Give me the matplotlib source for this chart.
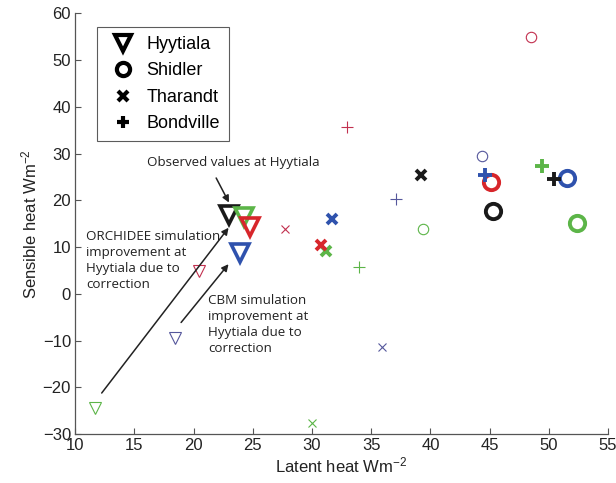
import matplotlib
matplotlib.use('Agg')
import matplotlib.pyplot as plt
from matplotlib.lines import Line2D

plt.rcParams['font.family'] = ['Liberation Sans', 'DejaVu Sans']
plt.rcParams['mathtext.default'] = 'regular'

# model keys for each point: obs = observed, orc = ORCHIDEE, cbm = CBM, m3 = third model
# suffix _c = corrected (big marker), _u = uncorrected (small marker)
hyy_model = ['orc_u', 'cbm_u', 'm3_u', 'obs', 'orc_c', 'm3_c', 'cbm_c']
hyy_latent = [11.7, 18.4, 20.5, 23.0, 24.3, 24.8, 23.9]
hyy_sensible = [-24.4, -9.4, 4.8, 16.8, 16.4, 14.3, 8.8]

shi_model = ['m3_u', 'cbm_u', 'orc_u', 'obs', 'orc_c', 'cbm_c', 'm3_c']
shi_latent = [48.5, 44.4, 39.4, 45.3, 52.4, 51.5, 45.1]
shi_sensible = [54.9, 29.4, 13.8, 17.7, 15.2, 24.7, 23.9]

tha_model = ['m3_u', 'cbm_u', 'orc_u', 'obs', 'cbm_c', 'orc_c', 'm3_c']
tha_latent = [27.7, 35.9, 30.0, 39.2, 31.7, 31.2, 30.8]
tha_sensible = [13.9, -11.4, -27.7, 25.4, 16.0, 9.1, 10.4]

bon_model = ['m3_u', 'cbm_u', 'orc_u', 'cbm_c', 'orc_c', 'obs']
bon_latent = [33.0, 37.1, 34.0, 44.6, 49.4, 50.4]
bon_sensible = [35.7, 20.3, 5.7, 25.4, 27.3, 24.5]

sites = ['Hyytiala', 'Shidler', 'Tharandt', 'Bondville']

colors = {'obs': '#1a1a1a', 'orc': '#5cb548', 'cbm': '#2f52ad', 'm3': '#d7262b'}
small_colors = {'orc': '#5cb548', 'cbm': '#55579c', 'm3': '#c2304f'}

site_style = {
    'Hyytiala': dict(marker='v', big=12.5, small=9, bw=2.6, sw=0.8),
    'Shidler': dict(marker='o', big=11, small=7.5, bw=2.8, sw=0.8),
    'Tharandt': dict(marker='x', big=7, small=6, bw=2.8, sw=0.8),
    'Bondville': dict(marker='+', big=10, small=8, bw=2.8, sw=0.8),
}

fig = plt.figure(figsize=(6.16, 4.83), dpi=100)
ax = fig.add_axes([0.122, 0.1014, 0.865, 0.871])

data = {
    'Hyytiala': (hyy_model, hyy_latent, hyy_sensible),
    'Shidler': (shi_model, shi_latent, shi_sensible),
    'Tharandt': (tha_model, tha_latent, tha_sensible),
    'Bondville': (bon_model, bon_latent, bon_sensible),
}

for site in sites:
    st = site_style[site]
    models, xs, ys = data[site]
    for m, x, y in zip(models, xs, ys):
        key = m.split('_')[0]
        if m == 'obs' or m.endswith('_c'):
            c = colors[key]
            ms, mew = st['big'], st['bw']
        else:
            c = small_colors[key]
            ms, mew = st['small'], st['sw']
        ax.plot(x, y, linestyle='none', marker=st['marker'], ms=ms,
                mew=mew, mec=c, mfc='none', zorder=3)

ax.set_xlim(10, 55)
ax.set_ylim(-30, 60)
ax.set_xticks(range(10, 56, 5))
ax.set_yticks(range(-30, 61, 10))
for s in ['top', 'right']:
    ax.spines[s].set_visible(False)
for s in ['left', 'bottom']:
    ax.spines[s].set_color('#555555')
    ax.spines[s].set_linewidth(0.9)
ax.tick_params(direction='in', length=4, width=0.8, color='#555555',
               labelsize=12, labelcolor='#222222', pad=3)
ax.set_xlabel(r'Latent heat Wm$^{-2}$', fontsize=12, color='#222222', labelpad=2)
ax.set_ylabel(r'Sensible heat Wm$^{-2}$', fontsize=12, color='#222222', labelpad=2)

legend_ms = {'Hyytiala': 11.5, 'Shidler': 9.5, 'Tharandt': 6.5, 'Bondville': 9}
handles = [Line2D([], [], linestyle='none', marker=site_style[s]['marker'],
                  ms=legend_ms[s], mew=3, mec='black', mfc='none') for s in sites]
leg = ax.legend(handles, sites, loc='upper left', bbox_to_anchor=(0.157, 0.944),
                bbox_transform=fig.transFigure, borderaxespad=0, fontsize=13,
                frameon=True, fancybox=False, edgecolor='#333333', borderpad=0.5,
                labelspacing=0.52, handletextpad=0.35, handlelength=1.9)
leg.get_frame().set_linewidth(0.8)

afont = dict(family=['Open Sans', 'DejaVu Sans'], fontsize=9.6, color='#222222')
arrow = dict(arrowstyle='-|>', color='#222222', lw=1.1, mutation_scale=10)

ax.text(16.1, 28.0, 'Observed values at Hyytiala', va='center', ha='left', **afont)
ax.annotate('', xy=(23.1, 19.0), xytext=(21.8, 25.3), arrowprops=arrow)

ax.text(10.9, 13.6, 'ORCHIDEE simulation\nimprovement at\nHyytiala due to\ncorrection',
        va='top', ha='left', linespacing=1.3, **afont)
ax.annotate('', xy=(23.1, 14.6), xytext=(12.1, -21.7), arrowprops=arrow)

ax.text(21.2, -0.1, 'CBM simulation\nimprovement at\nHyytiala due to\ncorrection',
        va='top', ha='left', linespacing=1.3, **afont)
ax.annotate('', xy=(23.1, 6.8), xytext=(18.8, -6.6), arrowprops=arrow)

fig.savefig('out.png', dpi=100)
